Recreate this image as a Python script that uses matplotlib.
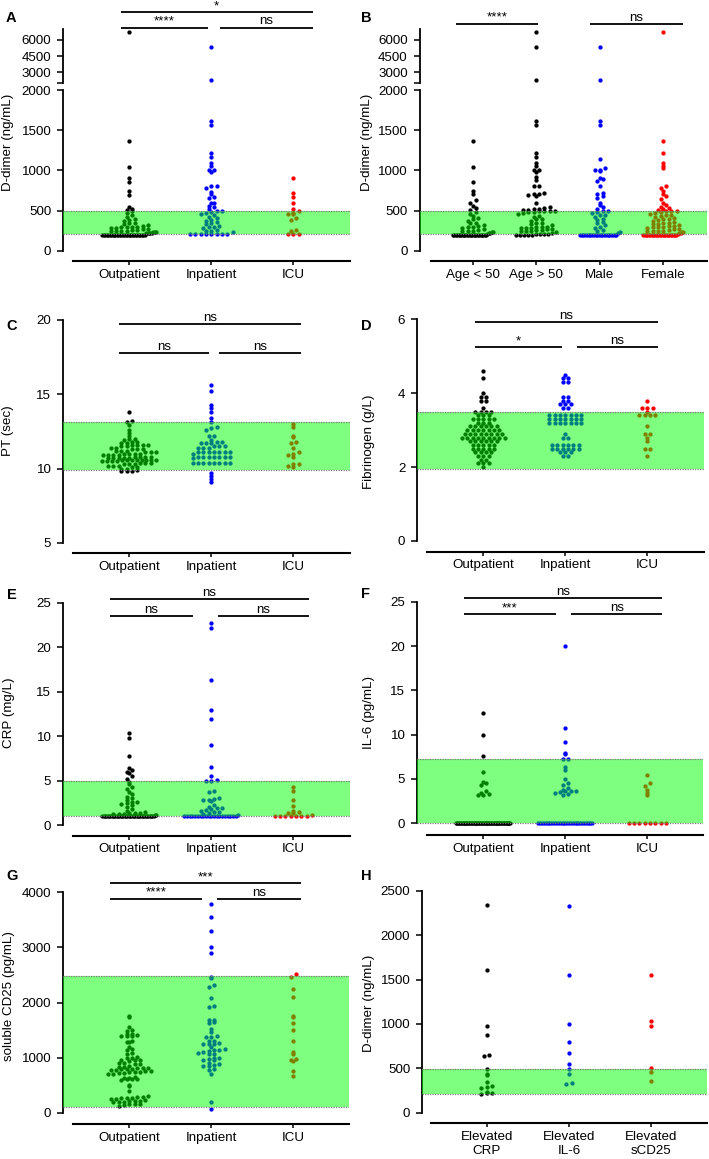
import numpy as np
import matplotlib
matplotlib.use('Agg')
import matplotlib.pyplot as plt
import matplotlib.transforms as mtransforms

# ======================= DATA =======================
group_cats = ['Outpatient', 'Inpatient', 'ICU']
group_colors = ['#000000', '#0000ff', '#ff0000']

# Panel A: D-dimer (ng/mL)
A_outpatient = [6700, 1360, 1040, 900, 860, 740, 690, 550, 520, 505,
                490, 470, 450, 420, 400, 380, 370, 350, 340, 330, 320, 310, 300,
                300, 290, 290, 280, 280, 270, 270, 260, 260, 250, 250, 240, 240,
                230, 230, 230, 225, 225, 225, 220, 220,
                200, 200, 200, 200, 200, 200, 200, 200, 200, 200,
                200, 200, 200, 200, 200, 200, 200, 200, 200, 200,
                200, 200, 200, 200, 200, 200, 200, 200, 200, 200]
A_inpatient = [5300, 2330, 1610, 1560, 1210, 1170, 1090, 1050, 1010, 1000, 980,
               800, 800, 780, 730, 700, 670, 650, 600, 590, 560, 540, 520,
               490, 490, 480, 470, 460, 440, 420, 410, 380, 370, 360, 340, 330,
               310, 300, 290, 280, 260, 250, 240, 230,
               210, 210, 210, 210, 210, 210, 210, 210]
A_icu = [910, 720, 665, 600, 520, 495, 465, 460, 455, 410, 380, 260, 240, 210, 210, 210]
A_sig = ['*', '****', 'ns']

# Panel B: D-dimer by age / sex
B_cats = ['Age < 50', 'Age > 50', 'Male', 'Female']
B_colors = ['#000000', '#000000', '#0000ff', '#ff0000']
B_age_lt50 = [1360, 1040, 860, 740, 710, 630, 600, 560, 530, 510,
              480, 460, 430, 410, 390, 370, 350, 340, 320, 310, 300, 290, 280,
              270, 260, 250, 240, 240, 230, 230, 220, 215, 210,
              200, 200, 200, 200, 200, 200, 200, 200, 200, 200,
              200, 200, 200, 200, 200, 200, 200, 200, 200, 200,
              200, 200, 200, 200, 200]
B_age_gt50 = [6700, 5300, 2330, 1610, 1560, 1210, 1170, 1090, 1050, 1010, 1000, 980,
              920, 880, 800, 800, 720, 700, 700, 690, 680, 600, 540, 530, 520, 520,
              510, 510, 500, 500,
              490, 490, 480, 480, 470, 460, 430, 420, 400, 390, 370, 350, 340, 330,
              320, 300, 290, 290, 280, 280, 280, 270, 270, 260, 260, 250, 240, 240,
              230, 220, 210, 210, 210, 210, 200, 200, 200, 200, 200]
B_male = [5300, 2330, 1610, 1560, 1140, 1030, 1010, 1000, 990, 910, 890, 870, 800,
          720, 700, 680, 650, 600, 570, 540, 520, 500,
          490, 480, 470, 450, 440, 420, 400, 380, 360, 340, 320, 300, 280, 260,
          240, 230, 220,
          200, 200, 200, 200, 200, 200, 200, 200, 200, 200, 200,
          200, 200, 200, 200, 200, 200, 200, 200, 200, 200, 200]
B_female = [6700, 1360, 1210, 1090, 1050, 1030, 800, 780, 740, 700, 680, 640, 600,
            570, 550, 530, 520, 510, 500, 500,
            490, 480, 470, 460, 450, 440, 430, 420, 410, 400, 390, 380, 370, 360,
            350, 340, 330, 330, 320, 310, 310, 300, 290, 290, 280, 270, 270, 260,
            250, 250, 240, 240, 230, 230, 220, 220, 210,
            200, 200, 200, 200, 200, 200, 200, 200, 200, 200,
            200, 200, 200, 200, 200, 200, 200, 200, 200, 200,
            200, 200, 200, 200, 200]
B_sig = ['****', 'ns']

# Panel C: PT (sec)
C_outpatient = [13.8, 13.2, 13.1, 12.9, 12.6, 12.4, 12.2, 12.0, 12.0, 11.9, 11.8, 11.8,
                11.7, 11.7, 11.6, 11.6, 11.6, 11.6, 11.5, 11.5, 11.4, 11.4, 11.3, 11.3,
                11.3, 11.2, 11.2, 11.2, 11.1, 11.1, 11.1, 11.0, 11.0, 11.0, 11.0,
                10.9, 10.9, 10.9, 10.9, 10.8, 10.8, 10.8, 10.8, 10.7, 10.7, 10.7, 10.7,
                10.7, 10.6, 10.6, 10.6, 10.6, 10.6, 10.6, 10.6, 10.6, 10.5, 10.5, 10.5,
                10.5, 10.4, 10.4, 10.4, 10.3, 10.3, 10.3, 10.2, 10.2, 10.2, 10.1, 10.1,
                10.0, 10.0, 9.9, 9.8, 9.8, 9.8]
C_inpatient = [15.6, 15.2, 14.3, 14.1, 13.8, 13.4, 13.1, 12.8, 12.7, 12.6, 12.2, 12.2,
               11.9, 11.8, 11.8, 11.7, 11.7, 11.7, 11.5, 11.5, 11.5, 11.4, 11.4, 11.4,
               11.1, 11.1, 11.1, 11.1, 11.1, 11.1, 11.1, 11.0,
               10.8, 10.8, 10.8, 10.8, 10.8, 10.8, 10.8, 10.7,
               10.4, 10.4, 10.4, 10.4, 10.4, 10.4, 10.4, 10.4,
               9.7, 9.5, 9.3, 9.1]
C_icu = [13.0, 12.8, 12.2, 12.1, 11.8, 11.7, 11.4, 11.1, 11.0, 10.9, 10.8, 10.3,
         10.3, 10.2, 10.1]
C_sig = ['ns', 'ns', 'ns']

# Panel D: Fibrinogen (g/L)
D_outpatient = [4.6, 4.4, 4.0, 3.9, 3.9, 3.8, 3.8, 3.6, 3.5, 3.5, 3.5, 3.5,
                3.4, 3.4, 3.4, 3.3, 3.3, 3.3, 3.3, 3.3, 3.2, 3.2, 3.2,
                3.1, 3.1, 3.1, 3.1, 3.1, 3.1, 3.0, 3.0, 3.0, 3.0, 3.0, 3.0, 3.0,
                2.9, 2.9, 2.9, 2.9, 2.9, 2.9, 2.9, 2.9,
                2.8, 2.8, 2.8, 2.8, 2.8, 2.8, 2.8, 2.8, 2.8,
                2.7, 2.7, 2.7, 2.7, 2.7, 2.7, 2.6, 2.6, 2.6, 2.6, 2.6,
                2.5, 2.5, 2.5, 2.5, 2.5, 2.4, 2.4, 2.4, 2.4, 2.3, 2.3, 2.3,
                2.2, 2.2, 2.1, 2.1, 2.1, 2.0]
D_inpatient = [4.5, 4.4, 4.4, 4.3, 4.3, 3.9, 3.9, 3.8, 3.8, 3.7, 3.7, 3.7, 3.6, 3.6,
               3.4, 3.4, 3.4, 3.4, 3.4, 3.4, 3.4, 3.3, 3.3, 3.3, 3.3, 3.3, 3.3, 3.3,
               3.2, 3.2, 3.2, 3.2, 3.2, 3.2, 3.2, 2.9, 2.8, 2.8,
               2.6, 2.6, 2.6, 2.6, 2.6, 2.6, 2.5, 2.5, 2.5, 2.5, 2.5, 2.5,
               2.4, 2.4, 2.4, 2.3, 2.3]
D_icu = [3.8, 3.6, 3.6, 3.6, 3.5, 3.4, 3.4, 3.4, 3.4, 3.1, 2.9, 2.9, 2.8, 2.7,
         2.5, 2.5, 2.3]
D_sig = ['ns', '*', 'ns']

# Panel E: CRP (mg/L)
E_outpatient = [10.4, 9.8, 7.8, 6.4, 6.2, 6.0, 5.8, 5.5, 5.2,
                4.8, 4.6, 4.3, 4.0, 3.7, 3.5, 3.2, 3.0, 2.8, 2.6, 2.6, 2.5, 2.4,
                2.2, 2.0, 1.8, 1.6, 1.5, 1.4, 1.3, 1.3, 1.2, 1.2, 1.2, 1.1, 1.1,
                1.0, 1.0, 1.0, 1.0, 1.0, 1.0, 1.0, 1.0, 1.0, 1.0,
                1.0, 1.0, 1.0, 1.0, 1.0, 1.0, 1.0, 1.0, 1.0, 1.0,
                1.0, 1.0, 1.0, 1.0, 1.0, 1.0, 1.0, 1.0, 1.0, 1.0,
                1.0, 1.0, 1.0, 1.0, 1.0, 1.0, 1.0, 1.0, 1.0, 1.0]
E_inpatient = [22.7, 22.1, 16.3, 12.9, 11.9, 9.0, 6.5, 5.5, 5.1, 5.0, 5.0,
               3.8, 3.7, 3.0, 2.9, 2.8, 2.8, 2.7, 2.2, 2.0, 1.9, 1.9, 1.8, 1.7,
               1.6, 1.5, 1.5, 1.4, 1.2, 1.1,
               1.0, 1.0, 1.0, 1.0, 1.0, 1.0, 1.0, 1.0, 1.0, 1.0,
               1.0, 1.0, 1.0, 1.0, 1.0, 1.0, 1.0, 1.0, 1.0, 1.0]
E_icu = [4.3, 3.8, 2.8, 2.1, 1.6, 1.5, 1.3, 1.3, 1.1,
         1.0, 1.0, 1.0, 1.0, 1.0, 1.0, 1.0]
E_sig = ['ns', 'ns', 'ns']

# Panel F: IL-6 (pg/mL)
F_outpatient = [12.4, 10.0, 7.6, 5.8, 4.7, 4.5, 4.3, 3.6, 3.4, 3.3, 3.2, 3.2,
                0, 0, 0, 0, 0, 0, 0, 0, 0, 0, 0, 0, 0, 0, 0, 0, 0, 0, 0, 0,
                0, 0, 0, 0, 0, 0, 0, 0, 0, 0, 0, 0, 0, 0, 0, 0, 0, 0, 0, 0,
                0, 0, 0, 0, 0, 0, 0, 0, 0, 0, 0, 0, 0, 0, 0, 0, 0, 0, 0, 0]
F_inpatient = [20.0, 10.7, 9.2, 7.9, 7.8, 7.3, 7.2, 6.3, 6.0, 5.0, 4.5, 4.3, 4.0,
               3.8, 3.7, 3.7, 3.6, 3.5, 3.4, 3.3, 3.2,
               0, 0, 0, 0, 0, 0, 0, 0, 0, 0, 0, 0, 0, 0, 0,
               0, 0, 0, 0, 0, 0, 0, 0, 0, 0, 0, 0, 0, 0, 0]
F_icu = [5.5, 4.5, 4.2, 3.8, 3.4, 3.2, 0, 0, 0, 0, 0, 0, 0, 0]
F_sig = ['ns', '***', 'ns']

# Panel G: soluble CD25 (pg/mL)
G_outpatient = [1750, 1730, 1560, 1510, 1480, 1420, 1420, 1410, 1400, 1400, 1390,
                1300, 1290, 1280, 1200, 1150, 1140, 1080, 1070, 1010, 1000, 990,
                960, 950, 950, 940, 900, 900, 890, 880, 850, 830, 830, 820, 820,
                810, 800, 800, 790, 780, 770, 760, 750, 740, 730, 730, 720, 720,
                710, 700, 640, 630, 630, 620, 620, 610, 600, 500, 490, 400,
                300, 290, 280, 270, 260, 260, 250, 240, 230, 220, 210, 210,
                200, 200, 190, 160, 150, 150, 140, 120]
G_inpatient = [3780, 3550, 3300, 3000, 2900, 2460, 2440, 2310, 2280, 2090, 1930,
               1920, 1690, 1680, 1650, 1630, 1520, 1470, 1400, 1380, 1370, 1310,
               1300, 1260, 1250, 1250, 1240, 1200, 1150, 1140, 1130, 1120, 1100,
               1090, 1070, 1060, 1000, 990, 970, 960, 950, 900, 880, 860, 850,
               840, 800, 780, 710, 200, 70]
G_icu = [2520, 2460, 2250, 2100, 1760, 1730, 1620, 1500, 1310, 1110, 1060, 980,
         960, 940, 750, 660]
G_sig = ['***', '****', 'ns']

# Panel H: D-dimer in patients with elevated markers
H_cats = ['Elevated\nCRP', 'Elevated\nIL-6', 'Elevated\nsCD25']
H_crp = [2340, 1610, 980, 870, 650, 640, 495, 440, 420, 350, 300, 290, 280,
         230, 220, 220, 210]
H_il6 = [2330, 1550, 1000, 800, 670, 550, 495, 440, 335, 325]
H_scd25 = [1550, 1030, 980, 505, 460, 355]

# Normal reference ranges (shaded)
A_range = (210, 500)
C_range = (9.9, 13.1)
D_range = (1.95, 3.5)
E_range = (1.0, 5.0)
F_range = (0.0, 7.2)
G_range = (100, 2490)
H_range = (215, 495)

# ======================= LAYOUT =======================
plt.rcParams['font.family'] = ['Liberation Sans', 'DejaVu Sans']
plt.rcParams['font.size'] = 9.6

W, H = 709, 1159
fig = plt.figure(figsize=(W / 100, H / 100), dpi=100)

BAND = '#00ff00'
LW = 1.3


def px_axes(x0, x1, ytop, ybot):
    return fig.add_axes([x0 / W, 1 - ybot / H, (x1 - x0) / W, (ybot - ytop) / H])


def make_panel(spine_x, start_x, right_x, ytop, ybot, ylim, cat0, sp, yticks,
               ybounds, cats=None, ytick_labels=None):
    ax = px_axes(spine_x, right_x, ytop, ybot)
    ax.set_xlim((spine_x - cat0) / sp, (right_x - cat0) / sp)
    ax.set_ylim(*ylim)
    ax.patch.set_alpha(0)
    for s in ['top', 'right']:
        ax.spines[s].set_visible(False)
    ax.spines['left'].set_bounds(*ybounds)
    ax.spines['left'].set_linewidth(LW)
    ax.set_yticks(yticks)
    if ytick_labels is not None:
        ax.set_yticklabels(ytick_labels)
    ax.tick_params(axis='y', length=4, width=1.1, pad=4.6, labelsize=9.6)
    if cats is None:
        ax.spines['bottom'].set_visible(False)
        ax.set_xticks([])
    else:
        ax.spines['bottom'].set_bounds((start_x - cat0) / sp, (right_x - cat0) / sp)
        ax.spines['bottom'].set_linewidth(LW + 0.2)
        ax.set_xticks(range(len(cats)))
        ax.set_xticklabels(cats)
        ax.tick_params(axis='x', length=3, width=1.1, pad=2.5, labelsize=9.6)
    return ax


def swarm_x(ax, xpos, vals, halfwidth, d=5.3, h=3.6):
    pts = ax.transData.transform(np.column_stack([np.full(len(vals), float(xpos)), vals]))
    ypx = pts[:, 1]
    bins = np.round(ypx / h).astype(int)
    offs = np.zeros(len(vals))
    for b in np.unique(bins):
        idx = np.where(bins == b)[0]
        n = len(idx)
        if n > 1:
            step = min(d, 2 * halfwidth / (n - 1))
            idx = idx[np.argsort(vals[idx], kind='stable')]
            offs[idx] = (np.arange(n) - (n - 1) / 2) * step
    sx = ax.transData.transform([[1, 0]])[0, 0] - ax.transData.transform([[0, 0]])[0, 0]
    return xpos + offs / sx


def draw_group(ax, xpos, vals, color, halfwidth):
    vals = np.asarray(vals, dtype=float)
    if len(vals) == 0:
        return
    xs = swarm_x(ax, xpos, vals, halfwidth)
    ax.scatter(xs, vals, s=9.5, color=color, linewidths=0, zorder=2, clip_on=False)


def band(ax, rng):
    ax.axhspan(rng[0], rng[1], color=BAND, alpha=0.5, lw=0, zorder=3)
    for v in rng:
        ax.axhline(v, color='#7a7a7a', lw=0.9, ls=(0, (1, 1)), zorder=4)


def sig_bar(ax, x0, x1, ypx, label):
    tr = mtransforms.blended_transform_factory(ax.transData, fig.transFigure)
    y = 1 - ypx / H
    ax.plot([x0, x1], [y, y], color='black', lw=LW, transform=tr, clip_on=False,
            solid_capstyle='butt')
    ax.text((x0 + x1) / 2, y + 3.3 / H, label, transform=tr, ha='center',
            va='baseline', fontsize=9.6)


def ylabel(xpx, ypx, text):
    fig.text(xpx / W, 1 - ypx / H, text, rotation=90, ha='center', va='center',
             fontsize=9.6)


def letter(xpx, ypx, text):
    fig.text(xpx / W, 1 - ypx / H, text, ha='center', va='center',
             fontsize=10.5, fontweight='bold')


# ----- Panel A (broken axis) -----
cat0, sp = 129.3, 82.0
axA = make_panel(63.3, 73.3, 350, 90, 261, (-128, 2000), cat0, sp,
                 [0, 500, 1000, 1500, 2000], (0, 2000), cats=group_cats)
axAu = make_panel(63.3, 73.3, 350, 29.3, 82.7, (2040, 6980), cat0, sp,
                  [2040, 3000, 4500, 6000], (2040, 6980),
                  ytick_labels=['', '3000', '4500', '6000'])
for i, (vals, col) in enumerate(zip([A_outpatient, A_inpatient, A_icu], group_colors)):
    v = np.asarray(vals, float)
    draw_group(axA, i, v[v <= 2000], col, 27)
    draw_group(axAu, i, v[v > 2000], col, 27)
band(axA, A_range)
sig_bar(axA, -0.105, 2.237, 12.3, A_sig[0])
sig_bar(axA, -0.105, 0.956, 27.7, A_sig[1])
sig_bar(axA, 1.106, 2.237, 27.7, A_sig[2])
ylabel(8, 142, 'D-dimer (ng/mL)')
letter(11, 18, 'A')

# ----- Panel B (broken axis) -----
cat0, sp = 473.0, 63.43
axB = make_panel(419.7, 430.7, 706.7, 90, 261, (-128, 2000), cat0, sp,
                 [0, 500, 1000, 1500, 2000], (0, 2000), cats=B_cats)
axBu = make_panel(419.7, 430.7, 706.7, 29.3, 82.7, (2040, 6980), cat0, sp,
                  [2040, 3000, 4500, 6000], (2040, 6980),
                  ytick_labels=['', '3000', '4500', '6000'])
for i, (vals, col) in enumerate(zip([B_age_lt50, B_age_gt50, B_male, B_female], B_colors)):
    v = np.asarray(vals, float)
    draw_group(axB, i, v[v <= 2000], col, 20)
    draw_group(axBu, i, v[v > 2000], col, 20)
band(axB, A_range)
sig_bar(axB, -0.273, 1.03, 24, B_sig[0])
sig_bar(axB, 1.845, 3.315, 24, B_sig[1])
ylabel(367, 142, 'D-dimer (ng/mL)')
letter(366, 18, 'B')

# ----- Panel C -----
cat0, sp = 129.3, 82.0
axC = make_panel(63.3, 73.3, 350, 320, 553.3, (4.29, 20), cat0, sp,
                 [5, 10, 15, 20], (5, 20), cats=group_cats)
for i, (vals, col) in enumerate(zip([C_outpatient, C_inpatient, C_icu], group_colors)):
    draw_group(axC, i, vals, col, 27)
band(axC, C_range)
sig_bar(axC, -0.126, 2.09, 324, C_sig[0])
sig_bar(axC, -0.126, 0.972, 353.3, C_sig[1])
sig_bar(axC, 1.094, 2.09, 353.3, C_sig[2])
ylabel(8, 431, 'PT (sec)')
letter(12, 326, 'C')

# ----- Panel D -----
cat0, sp = 483.3, 82.0
axD = make_panel(417.3, 427.3, 704, 319.3, 551.7, (-0.29, 6), cat0, sp,
                 [0, 2, 4, 6], (0, 6), cats=group_cats)
for i, (vals, col) in enumerate(zip([D_outpatient, D_inpatient, D_icu], group_colors)):
    draw_group(axD, i, vals, col, 27)
band(axD, D_range)
sig_bar(axD, -0.105, 2.13, 322.3, D_sig[0])
sig_bar(axD, -0.105, 0.956, 347.3, D_sig[1])
sig_bar(axD, 1.139, 2.13, 347.3, D_sig[2])
ylabel(369, 442, 'Fibrinogen (g/L)')
letter(366, 326, 'D')

# ----- Panel E -----
cat0, sp = 129.3, 82.0
axE = make_panel(63.3, 73.3, 350, 602.7, 835.7, (-1.2, 25), cat0, sp,
                 [0, 5, 10, 15, 20, 25], (0, 25), cats=group_cats)
for i, (vals, col) in enumerate(zip([E_outpatient, E_inpatient, E_icu], group_colors)):
    draw_group(axE, i, vals, col, 27)
band(axE, E_range)
sig_bar(axE, -0.235, 2.19, 599.3, E_sig[0])
sig_bar(axE, -0.235, 0.773, 616, E_sig[1])
sig_bar(axE, 1.085, 2.19, 616, E_sig[2])
ylabel(9, 713, 'CRP (mg/L)')
letter(12, 595, 'E')

# ----- Panel F -----
cat0, sp = 483.3, 82.0
axF = make_panel(417.3, 427.3, 703, 601.7, 835, (-1.32, 25), cat0, sp,
                 [0, 5, 10, 15, 20, 25], (0, 25), cats=group_cats)
for i, (vals, col) in enumerate(zip([F_outpatient, F_inpatient, F_icu], group_colors)):
    draw_group(axF, i, vals, col, 27)
band(axF, F_range)
sig_bar(axF, -0.235, 2.18, 598.3, F_sig[0])
sig_bar(axF, -0.235, 0.883, 614.3, F_sig[1])
sig_bar(axF, 1.073, 2.18, 614.3, F_sig[2])
ylabel(369, 712, 'IL-6 (pg/mL)')
letter(366, 594, 'F')

# ----- Panel G -----
cat0, sp = 129.3, 82.0
axG = make_panel(63.3, 73.3, 349, 892.3, 1124, (-205, 4000), cat0, sp,
                 [0, 1000, 2000, 3000, 4000], (0, 4000), cats=group_cats)
for i, (vals, col) in enumerate(zip([G_outpatient, G_inpatient, G_icu], group_colors)):
    draw_group(axG, i, vals, col, 27)
band(axG, G_range)
sig_bar(axG, -0.235, 2.09, 883.3, G_sig[0])
sig_bar(axG, -0.235, 0.883, 899, G_sig[1])
sig_bar(axG, 1.073, 2.09, 899, G_sig[2])
ylabel(9, 996, 'soluble CD25 (pg/mL)')
letter(12, 876, 'G')

# ----- Panel H -----
cat0, sp = 486.7, 82.3
axH = make_panel(422.3, 431.3, 706.7, 890.7, 1123.3, (-119, 2500), cat0, sp,
                 [0, 500, 1000, 1500, 2000, 2500], (0, 2500), cats=H_cats)
for i, (vals, col) in enumerate(zip([H_crp, H_il6, H_scd25], group_colors)):
    draw_group(axH, i, vals, col, 27)
band(axH, H_range)
ylabel(369, 1003, 'D-dimer (ng/mL)')
letter(366, 876, 'H')

fig.savefig('out.png', dpi=100)
